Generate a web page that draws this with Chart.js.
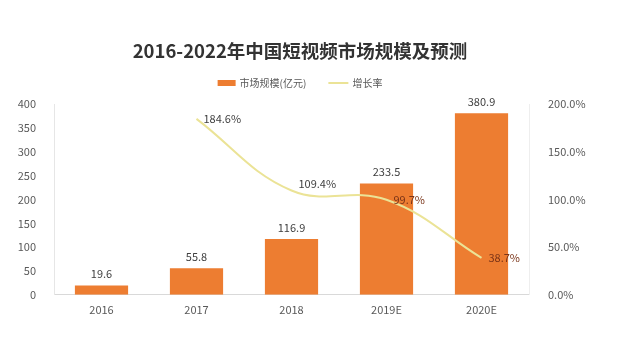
<!DOCTYPE html>
<html>
<head>
<meta charset="utf-8">
<script src="https://cdn.jsdelivr.net/npm/chart.js@4"></script>
<style>
  html, body { margin: 0; padding: 0; background: #fff; }
  #wrap { width: 640px; height: 340px; position: relative; }
</style>
</head>
<body>
<div id="wrap"><canvas id="myChart"></canvas></div>
<script>
// chart data
const years = ['2016', '2017', '2018', '2019E', '2020E'];
const marketSize = [19.6, 55.8, 116.9, 233.5, 380.9];   // 亿元
const growthRate = [null, 184.6, 109.4, 99.7, 38.7];    // %
const leftTicks = [0, 50, 100, 150, 200, 250, 300, 350, 400];
const rightTicks = [0, 50, 100, 150, 200];

const FONT = '"Noto Sans CJK SC", "Noto Sans", sans-serif';
const BAR_COLOR = '#ed7d31';
const LINE_COLOR = '#ebe396';

// draws the value labels on bars and line points
const valueLabels = {
    id: 'valueLabels',
    afterDatasetsDraw(chart) {
        const ctx = chart.ctx;
        ctx.save();
        ctx.font = '11px ' + FONT;

        // bar labels, centered above each bar
        chart.getDatasetMeta(0).data.forEach((bar, i) => {
            ctx.fillStyle = '#404040';
            ctx.textAlign = 'center';
            ctx.textBaseline = 'bottom';
            ctx.fillText(marketSize[i].toFixed(1), bar.x, bar.y - 6);
        });

        // growth labels, to the right of each point
        chart.getDatasetMeta(1).data.forEach((pt, i) => {
            if (growthRate[i] === null) return;
            const onBar = i >= 3;
            ctx.fillStyle = onBar ? '#7a3418' : '#404040';
            ctx.textAlign = 'left';
            ctx.textBaseline = 'middle';
            const dy = i === 2 ? -7 : 0;
            ctx.fillText(growthRate[i].toFixed(1) + '%', pt.x + 7, pt.y + dy);
        });
        ctx.restore();
    }
};

// simple legend: bar swatch + line sample, centered under the title
const customLegend = {
    id: 'customLegend',
    afterDraw(chart) {
        const ctx = chart.ctx;
        const y = 83;
        ctx.save();
        ctx.font = '10px ' + FONT;
        ctx.textBaseline = 'middle';
        ctx.textAlign = 'left';
        const t1 = chart.data.datasets[0].label;
        const t2 = chart.data.datasets[1].label;
        const w1 = ctx.measureText(t1).width;
        const w2 = ctx.measureText(t2).width;
        const total = 18 + 4 + w1 + 22 + 20 + 4 + w2;
        const titleBox = chart.titleBlock;
        const cx = titleBox.left + titleBox.width / 2;
        let x = cx - total / 2;
        ctx.fillStyle = BAR_COLOR;
        ctx.fillRect(x, y - 3, 18, 6);
        x += 22;
        ctx.fillStyle = '#595959';
        ctx.fillText(t1, x, y);
        x += w1 + 22;
        ctx.strokeStyle = LINE_COLOR;
        ctx.lineWidth = 2;
        ctx.beginPath();
        ctx.moveTo(x, y);
        ctx.lineTo(x + 20, y);
        ctx.stroke();
        x += 24;
        ctx.fillText(t2, x, y);
        ctx.restore();
    }
};

const myChart = new Chart(document.getElementById('myChart'), {
    data: {
        labels: years,
        datasets: [{
            type: 'bar',
            label: '市场规模(亿元)',
            data: marketSize,
            backgroundColor: BAR_COLOR,
            categoryPercentage: 1.0,
            barPercentage: 0.56,
            yAxisID: 'y',
            order: 2
        }, {
            type: 'line',
            label: '增长率',
            data: growthRate,
            borderColor: LINE_COLOR,
            backgroundColor: LINE_COLOR,
            borderWidth: 2,
            pointRadius: 0,
            tension: 0.4,
            yAxisID: 'y1',
            order: 1
        }]
    },
    options: {
        responsive: true,
        maintainAspectRatio: false,
        animation: false,
        layout: { padding: { left: 0, right: 40, top: 40, bottom: 24 } },
        plugins: {
            title: {
                display: true,
                text: '2016-2022年中国短视频市场规模及预测',
                color: '#333333',
                font: { family: FONT, size: 18.5, weight: 'bold' },
                padding: { top: 0, bottom: 42 }
            },
            legend: { display: false },
            tooltip: { enabled: false }
        },
        scales: {
            x: {
                grid: { display: false },
                border: { color: '#d9d9d9' },
                ticks: { color: '#595959', font: { family: FONT, size: 11 }, padding: 0 }
            },
            y: {
                position: 'left',
                min: 0,
                max: 400,
                grid: { display: false },
                border: { color: '#e6e6e6' },
                afterBuildTicks: axis => { axis.ticks = leftTicks.map(v => ({ value: v })); },
                afterFit: axis => { axis.width = 54; },
                ticks: { color: '#595959', font: { family: FONT, size: 11 }, padding: 10 }
            },
            y1: {
                position: 'right',
                min: 0,
                max: 200,
                grid: { display: false },
                border: { color: '#eeeeee' },
                afterBuildTicks: axis => { axis.ticks = rightTicks.map(v => ({ value: v })); },
                afterFit: axis => { axis.width = 71; },
                ticks: {
                    color: '#595959',
                    font: { family: FONT, size: 11 },
                    padding: 11,
                    callback: v => v.toFixed(1) + '%'
                }
            }
        }
    },
    plugins: [valueLabels, customLegend]
});
</script>
</body>
</html>
